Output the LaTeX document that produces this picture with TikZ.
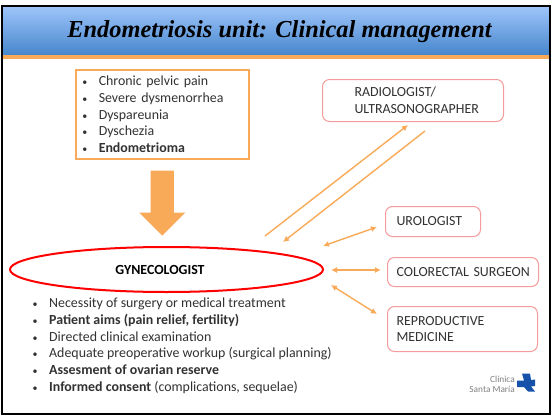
\documentclass[tikz,border=0pt]{standalone}
\usepackage{fontspec}
\setmainfont{Carlito}
\newfontfamily\titlefont{Liberation Serif}
\usepackage{xcolor}
\usetikzlibrary{arrows.meta,positioning,shapes.geometric,shapes.arrows}
\definecolor{bannertop}{RGB}{158,197,250}
\definecolor{bannerlow}{RGB}{72,135,205}
\definecolor{amber}{RGB}{249,170,88}
\definecolor{rosy}{RGB}{245,155,155}
\definecolor{inkgrey}{RGB}{50,50,50}
\definecolor{crossblue}{RGB}{22,82,170}
\newcommand{\bul}{\makebox[17pt][l]{\hspace*{0.5pt}{\fontsize{10}{10}\selectfont\textbullet}}}

\begin{document}
\begin{tikzpicture}[x=1pt, y=-1pt, >=Latex, node distance=4pt and 6pt,
 every node/.style={font=\fontsize{13.9}{16.7}\selectfont, text=inkgrey, align=left},
 unit/.style={draw=rosy, rounded corners=7pt, line width=1pt, fill=white, inner ysep=0pt, anchor=north west},
 link/.style={<->, draw=amber, line width=1.4pt, >={Latex[length=6pt,width=6pt]}},
 oneway/.style={->, draw=amber, line width=1.4pt, >={Latex[length=6pt,width=6pt]}}]
\useasboundingbox (0,0) rectangle (552,415);
\fill[white] (0,0) rectangle (552,415);
% banner
\node[minimum width=547pt, minimum height=48pt, inner sep=0pt, anchor=north west, top color=bannertop, bottom color=bannerlow] (banner) at (2,6) {};
\node[minimum width=547pt, minimum height=4pt, inner sep=0pt, fill=amber, below=0pt of banner] (band) {};
\node[font=\fontsize{24.4}{28}\titlefont\bfseries\itshape, text=black] (title) at (279.5,32) {Endometriosis unit: Clinical management};
\node[draw=black, line width=2pt, minimum width=548pt, minimum height=408pt, inner sep=0pt, anchor=north west] (frame) at (1,5) {};
% symptoms
\node[draw=amber, line width=1.5pt, anchor=north west, minimum height=89pt, text width=161pt, inner xsep=6pt, inner ysep=0pt] (symptoms) at (75,69) {\bul Chronic pelvic pain\\\bul Severe dysmenorrhea\\\bul Dyspareunia\\\bul Dyschezia\\\bul\textbf{Endometrioma}};
\node[single arrow, shape border rotate=270, fill=amber, minimum height=65pt, minimum width=46pt, single arrow head extend=11.5pt, single arrow tip angle=90, inner sep=11.5pt, below=11pt of symptoms] (down) {};
% gynecologist
\node[ellipse, draw=red, line width=2pt, minimum width=313pt, minimum height=45pt, inner sep=0pt, align=center, font=\fontsize{13.9}{16}\selectfont\bfseries, text=black] (gyn) at (166.5,269.5) {GYNECOLOGIST\hspace*{13pt}};
\node[anchor=north west, inner sep=0pt] (aims) at (32,298) {\bul Necessity of surgery or medical treatment\\\bul\textbf{Patient aims (pain relief, fertility)}\\\bul Directed clinical examination\\\bul Adequate preoperative workup (surgical planning)\\\bul\textbf{Assesment of ovarian reserve}\\\bul\textbf{Informed consent} (complications, sequelae)};
% specialists
\node[unit, minimum height=42pt, text width=117pt, inner xsep=32pt] (radio) at (322,79) {RADIOLOGIST/\\ULTRASONOGRAPHER};
\node[unit, minimum height=30pt, text width=73pt, inner xsep=11pt] (uro) at (385,206) {UROLOGIST};
\node[unit, minimum height=29pt, text width=133pt, inner xsep=9pt, below=20pt of uro.south west, anchor=north west, xshift=2pt] (colo) {\mbox{COLORECTAL SURGEON}};
\node[unit, minimum height=45pt, text width=132pt, inner xsep=9pt, below=19pt of colo.south west, anchor=north west] (repro) {REPRODUCTIVE\\MEDICINE};
% arrow ends
\coordinate (radfrom) at (265,236);
\coordinate (radto) at (408,125);
\coordinate (backfrom) at (425,131);
\coordinate (backto) at (283,242);
\coordinate (urofrom) at (323,246);
\coordinate (uroto) at (377,227);
\coordinate (colofrom) at (331,270);
\coordinate (coloto) at (381,270);
\coordinate (reprofrom) at (331,285);
\coordinate (reproto) at (377,314);
\draw[oneway] (radfrom)--(radto);
\draw[oneway] (backfrom)--(backto);
\draw[link] (urofrom)--(uroto);
\draw[link] (colofrom)--(coloto);
\draw[link] (reprofrom)--(reproto);
% logo
\node[anchor=east, font=\fontsize{9.3}{9.3}\selectfont, text=gray, inner sep=0pt] (clinica) at (515,379.5) {Clínica};
\node[anchor=east, font=\fontsize{9.3}{9.3}\selectfont, text=gray, inner sep=0pt] (santa) at (515,389) {Santa María};
\fill[crossblue] (522,373.5) -- (530,373.5) -- (531,380) -- (535,379.5) -- (535,386) -- (531,386.5) -- (535,391.5) -- (528,391.5) -- (524,387) -- (517,387) -- (517,380.5) -- (524,380.5) -- cycle;
\end{tikzpicture}
\end{document}
